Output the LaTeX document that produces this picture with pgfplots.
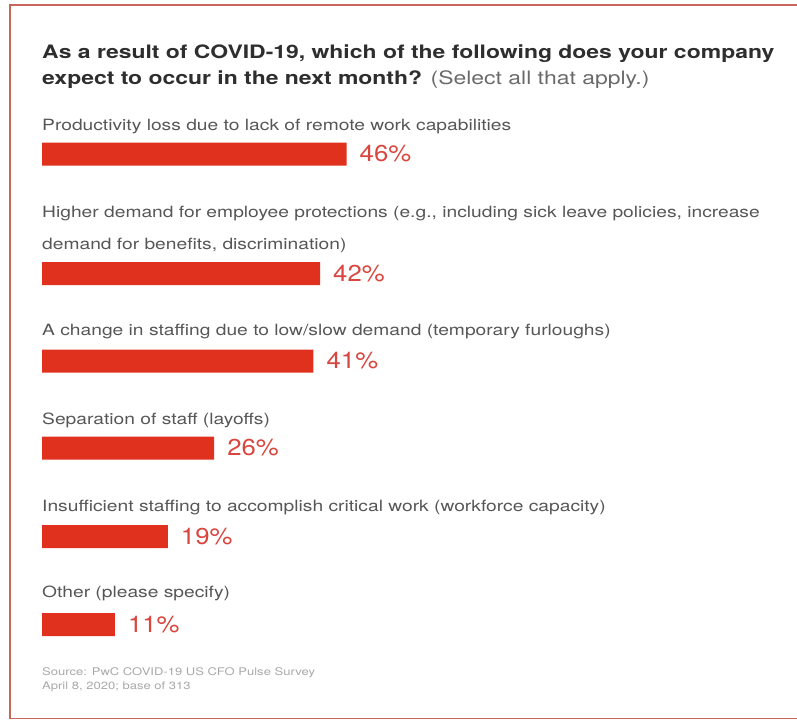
\documentclass[border=0pt]{standalone}
\usepackage{pgfplots}
\pgfplotsset{compat=1.18}
\usepackage{fontspec}
\setmainfont{TeX Gyre Heros}[FakeStretch=1.24]
\newfontfamily\pctfont{TeX Gyre Heros}[FakeStretch=1.12]
\definecolor{pwcred}{HTML}{E0301E}
\definecolor{pcttext}{HTML}{D8463F}
\definecolor{labeltext}{HTML}{565656}
\definecolor{titletext}{HTML}{2E2E2E}
\definecolor{subtext}{HTML}{6A6A6A}
\definecolor{srctext}{HTML}{A8A8A8}
\definecolor{framecol}{HTML}{C8665C}
\begin{document}
\begin{tikzpicture}
\useasboundingbox (0,0) rectangle (797pt,720pt);
\begin{axis}[
  at={(0,0)}, anchor=south west,
  scale only axis, width=797pt, height=720pt,
  xmin=-6.3444, xmax=114.048, ymin=0, ymax=720, y dir=reverse,
  hide axis, clip=false,
  /pgf/number format/assume math mode=true,
]
% frame
\draw[framecol, line width=1.6pt] (axis cs:114.048,5) -- (axis cs:-4.834,5) -- (axis cs:-4.834,718.5) -- (axis cs:114.048,718.5);
% bars
\addplot[xbar, bar width=23, fill=pwcred, draw=none,
  nodes near coords={\pgfmathprintnumber{\pgfplotspointmeta}\%},
  nodes near coords style={anchor=west, inner sep=0pt, xshift=13pt, font=\pctfont\fontsize{23}{23}\selectfont, text=pcttext},
  point meta=x]
  coordinates {(46,154) (42,273.5) (41,361) (26,448) (19,536.5) (11,624.5)};
% title
\node[anchor=base west, inner sep=0pt, text=titletext, font=\fontsize{18.5}{18.5}\selectfont\bfseries] at (axis cs:0,58) {As a result of COVID-19, which of the following does your company};
\node[anchor=base west, inner sep=0pt, text=titletext, font=\fontsize{18.5}{18.5}\selectfont] at (axis cs:0,84) {\textbf{expect to occur in the next month?} {\color{subtext}(Select all that apply.)}};
% labels
\begin{scope}[every node/.style={anchor=base west, inner sep=0pt, text=labeltext, font=\fontsize{15.5}{15.5}\selectfont}]
\node at (axis cs:0,130) {Productivity loss due to lack of remote work capabilities};
\node at (axis cs:0,217) {Higher demand for employee protections (e.g., including sick leave policies, increase};
\node at (axis cs:0,249) {demand for benefits, discrimination)};
\node at (axis cs:0,335) {A change in staffing due to low/slow demand (temporary furloughs)};
\node at (axis cs:0,424) {Separation of staff (layoffs)};
\node at (axis cs:0,511.5) {Insufficient staffing to accomplish critical work (workforce capacity)};
\node at (axis cs:0,597) {Other (please specify)};
\end{scope}
% source
\node[anchor=base west, inner sep=0pt, text=srctext, font=\fontsize{10.5}{10.5}\selectfont] at (axis cs:0,675) {Source: PwC COVID-19 US CFO Pulse Survey};
\node[anchor=base west, inner sep=0pt, text=srctext, font=\fontsize{10.5}{10.5}\selectfont] at (axis cs:0,689) {April 8, 2020; base of 313};
\end{axis}
\end{tikzpicture}
\end{document}
